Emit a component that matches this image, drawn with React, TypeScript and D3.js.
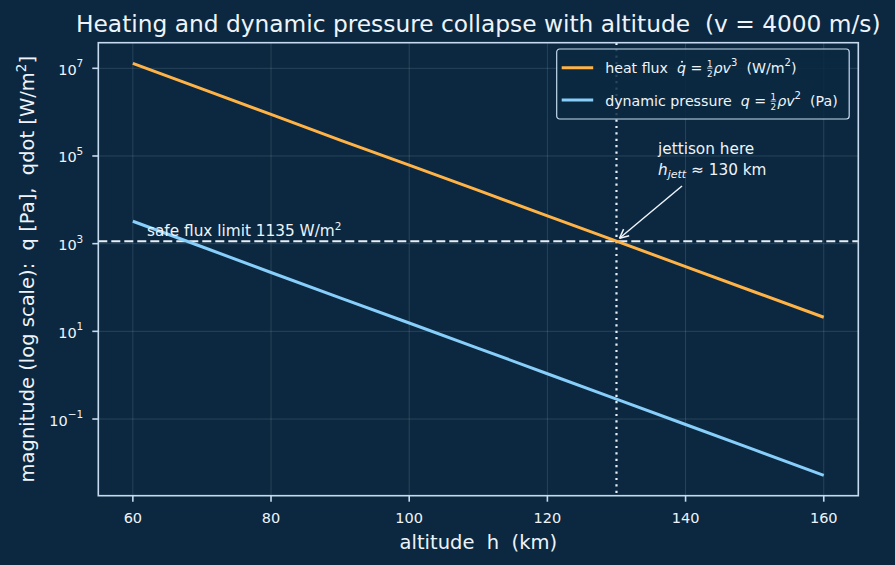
import React, { useEffect, useRef } from 'react';
import * as d3 from 'd3';

// altitude samples (km) and the two curves
const altitudes = [60, 70, 80, 90, 100, 110, 120, 130, 140, 150, 160];
const heatFlux = [1.3e7, 3.4e6, 8.9e5, 2.3e5, 6.2e4, 1.65e4, 4.3e3, 1.14e3, 3.0e2, 79, 21];
const dynPressure = [3250, 850, 220, 58, 15.5, 4.1, 1.08, 0.285, 0.075, 0.0198, 0.0052];

const xTicks = [60, 80, 100, 120, 140, 160];
const yTickExps = [-1, 1, 3, 5, 7];

const safeFlux = 1135;
const jettisonAlt = 130;

const BG = '#0b2840';
const FG = '#eef4fa';
const SPINE = '#c6dbef';
const ORANGE = '#ffb347';
const BLUE = '#87cefa';
const FONT = 'DejaVu Sans, sans-serif';

// keep runs of spaces, svg collapses them otherwise
const nb = (s: string) => s.replace(/ /g, '\u00a0');

type Part = { t?: string; size?: number; italic?: boolean; dy?: number; frac?: [string, string]; dot?: boolean };

// lays out text pieces left to right, like matplotlib mathtext
function richRow(g: d3.Selection<SVGGElement, unknown, null, undefined>, x: number, y: number, parts: Part[], base: number) {
    let cx = x;
    parts.forEach(p => {
        if (p.frac) {
            const s = base * 0.62;
            const a = g.append('text').attr('x', cx).attr('y', y - base * 0.42).attr('font-size', s).text(p.frac[0]);
            const b = g.append('text').attr('x', cx).attr('y', y + base * 0.28).attr('font-size', s).text(p.frac[1]);
            const w = Math.max((a.node() as SVGTextElement).getComputedTextLength(), (b.node() as SVGTextElement).getComputedTextLength());
            g.append('line').attr('x1', cx).attr('x2', cx + w).attr('y1', y - base * 0.33).attr('y2', y - base * 0.33)
                .attr('stroke', FG).attr('stroke-width', 0.8);
            cx += w + 1;
            return;
        }
        const el = g.append('text')
            .attr('x', cx)
            .attr('y', y + (p.dy || 0))
            .attr('font-size', p.size || base)
            .attr('font-style', p.italic ? 'italic' : 'normal')
            .text(nb(p.t || ''));
        const w = (el.node() as SVGTextElement).getComputedTextLength();
        if (p.dot) {
            g.append('circle').attr('cx', cx + w * 0.55).attr('cy', y - base * 0.78).attr('r', base * 0.07).attr('fill', FG);
        }
        cx += w;
    });
    return cx - x;
}

const App: React.FC = () => {
    const ref = useRef<SVGSVGElement | null>(null);

    useEffect(() => {
        if (!ref.current) return;
        const W = 895, H = 565;
        const margin = { top: 42.7, right: 895 - 858.3, bottom: 565 - 495.7, left: 98.3 };
        const width = W - margin.left - margin.right;
        const height = H - margin.top - margin.bottom;

        const x = d3.scaleLinear().domain([55, 165]).range([0, width]);
        const y = d3.scaleLog().domain([Math.pow(10, -2.749), Math.pow(10, 7.584)]).range([height, 0]);

        const root = d3.select(ref.current);
        root.selectAll('*').remove();
        root.append('rect').attr('width', W).attr('height', H).attr('fill', BG);

        const svg = root.append('g')
            .attr('transform', `translate(${margin.left},${margin.top})`)
            .attr('font-family', FONT)
            .attr('fill', FG);

        // grid
        svg.append('g').selectAll('line.gx').data(xTicks).enter().append('line')
            .attr('x1', d => x(d)).attr('x2', d => x(d)).attr('y1', 0).attr('y2', height)
            .attr('stroke', SPINE).attr('stroke-opacity', 0.2).attr('stroke-width', 0.8);
        svg.append('g').selectAll('line.gy').data(yTickExps).enter().append('line')
            .attr('x1', 0).attr('x2', width).attr('y1', d => y(Math.pow(10, d))).attr('y2', d => y(Math.pow(10, d)))
            .attr('stroke', SPINE).attr('stroke-opacity', 0.2).attr('stroke-width', 0.8);

        const line = d3.line<[number, number]>().x(d => x(d[0])).y(d => y(d[1]));

        // reference lines
        svg.append('line')
            .attr('x1', 0).attr('x2', width).attr('y1', y(safeFlux)).attr('y2', y(safeFlux))
            .attr('stroke', '#e8eef5').attr('stroke-width', 2).attr('stroke-dasharray', '9,4');
        svg.append('line')
            .attr('x1', x(jettisonAlt)).attr('x2', x(jettisonAlt)).attr('y1', 0).attr('y2', height)
            .attr('stroke', '#e8eef5').attr('stroke-width', 2.2).attr('stroke-dasharray', '2.2,4.2');

        // series
        svg.append('path')
            .datum(altitudes.map((a, i) => [a, heatFlux[i]] as [number, number]))
            .attr('d', line).attr('fill', 'none').attr('stroke', ORANGE).attr('stroke-width', 3);
        svg.append('path')
            .datum(altitudes.map((a, i) => [a, dynPressure[i]] as [number, number]))
            .attr('d', line).attr('fill', 'none').attr('stroke', BLUE).attr('stroke-width', 3);

        // spines
        svg.append('rect').attr('width', width).attr('height', height)
            .attr('fill', 'none').attr('stroke', SPINE).attr('stroke-width', 1.6);

        // x ticks
        const xt = svg.append('g').selectAll('g').data(xTicks).enter().append('g')
            .attr('transform', d => `translate(${x(d)},${height})`);
        xt.append('line').attr('y1', 0).attr('y2', 6).attr('stroke', SPINE).attr('stroke-width', 1.6);
        xt.append('text').attr('y', 27.5).attr('text-anchor', 'middle').attr('font-size', 14.5).text(d => d);

        // y ticks
        const yt = svg.append('g').selectAll('g').data(yTickExps).enter().append('g')
            .attr('transform', d => `translate(0,${y(Math.pow(10, d))})`);
        yt.append('line').attr('x1', 0).attr('x2', -6).attr('stroke', SPINE).attr('stroke-width', 1.6);
        const ytxt = yt.append('text').attr('x', -15).attr('y', 6.5).attr('text-anchor', 'end').attr('font-size', 14.5);
        ytxt.append('tspan').text('10');
        ytxt.append('tspan').attr('dy', -7.5).attr('font-size', 10.5).text(d => (d < 0 ? '\u2212' + Math.abs(d) : String(d)));

        // labels
        svg.append('text')
            .attr('x', width / 2).attr('y', -10.5)
            .attr('text-anchor', 'middle').attr('font-size', 23.3)
            .text(nb('Heating and dynamic pressure collapse with altitude  (v = 4000 m/s)'));
        svg.append('text')
            .attr('x', width / 2).attr('y', height + 53)
            .attr('text-anchor', 'middle').attr('font-size', 19.5)
            .text(nb('altitude  h  (km)'));
        const yl = svg.append('text')
            .attr('transform', `translate(${34 - margin.left},${height / 2}) rotate(-90)`)
            .attr('text-anchor', 'middle').attr('font-size', 19.5);
        yl.append('tspan').text(nb('magnitude (log scale):  q [Pa],  qdot [W/m'));
        yl.append('tspan').attr('dy', -8).attr('font-size', 13.5).text('2');
        yl.append('tspan').attr('dy', 8).text(']');

        // safe flux label
        const sf = svg.append('text')
            .attr('x', 147 - margin.left).attr('y', y(safeFlux) - 5.5)
            .attr('font-size', 15.3);
        sf.append('tspan').text('safe flux limit 1135 W/m');
        sf.append('tspan').attr('dy', -6).attr('font-size', 10.5).text('2');

        // annotation
        const ann = svg.append('g').attr('font-size', 15.3);
        ann.append('text').attr('x', 658 - margin.left).attr('y', 154 - margin.top).text('jettison here');
        richRow(ann, 658 - margin.left, 175 - margin.top, [
            { t: 'h', italic: true },
            { t: 'jett', italic: true, size: 11, dy: 3 },
            { t: ' \u2248 130 km' },
        ], 15.3);
        const ax0 = 682 - margin.left, ay0 = 186 - margin.top;
        const ax1 = x(jettisonAlt) + 3, ay1 = y(safeFlux) - 3;
        svg.append('line').attr('x1', ax0).attr('y1', ay0).attr('x2', ax1).attr('y2', ay1)
            .attr('stroke', FG).attr('stroke-width', 1.5);
        const ang = Math.atan2(ay0 - ay1, ax0 - ax1);
        [0.45, -0.45].forEach(da => {
            svg.append('line').attr('x1', ax1).attr('y1', ay1)
                .attr('x2', ax1 + 10 * Math.cos(ang + da)).attr('y2', ay1 + 10 * Math.sin(ang + da))
                .attr('stroke', FG).attr('stroke-width', 1.5);
        });

        // legend
        const lg = svg.append('g').attr('transform', `translate(${556.7 - margin.left},${49 - margin.top})`);
        lg.append('rect').attr('width', 292.5).attr('height', 70).attr('rx', 3)
            .attr('fill', BG).attr('fill-opacity', 0.85).attr('stroke', SPINE).attr('stroke-width', 1.2);
        lg.append('line').attr('x1', 5).attr('x2', 36.5).attr('y1', 18.7).attr('y2', 18.7).attr('stroke', ORANGE).attr('stroke-width', 3);
        lg.append('line').attr('x1', 5).attr('x2', 36.5).attr('y1', 51).attr('y2', 51).attr('stroke', BLUE).attr('stroke-width', 3);
        const ls = 14.2;
        richRow(lg, 48.5, 23.8, [
            { t: 'heat flux  ' },
            { t: 'q', italic: true, dot: true },
            { t: ' = ' },
            { frac: ['1', '2'] },
            { t: '\u03c1v', italic: true },
            { t: '3', size: 10, dy: -6.5 },
            { t: '  (W/m' },
            { t: '2', size: 10, dy: -6.5 },
            { t: ')' },
        ], ls);
        richRow(lg, 48.5, 56.8, [
            { t: 'dynamic pressure  ' },
            { t: 'q', italic: true },
            { t: ' = ' },
            { frac: ['1', '2'] },
            { t: '\u03c1v', italic: true },
            { t: '2', size: 10, dy: -6.5 },
            { t: '  (Pa)' },
        ], ls);
    }, []);

    return (
        <svg ref={ref} width={895} height={565} style={{ position: 'absolute', left: 0, top: 0 }} />
    );
};

export default App;
